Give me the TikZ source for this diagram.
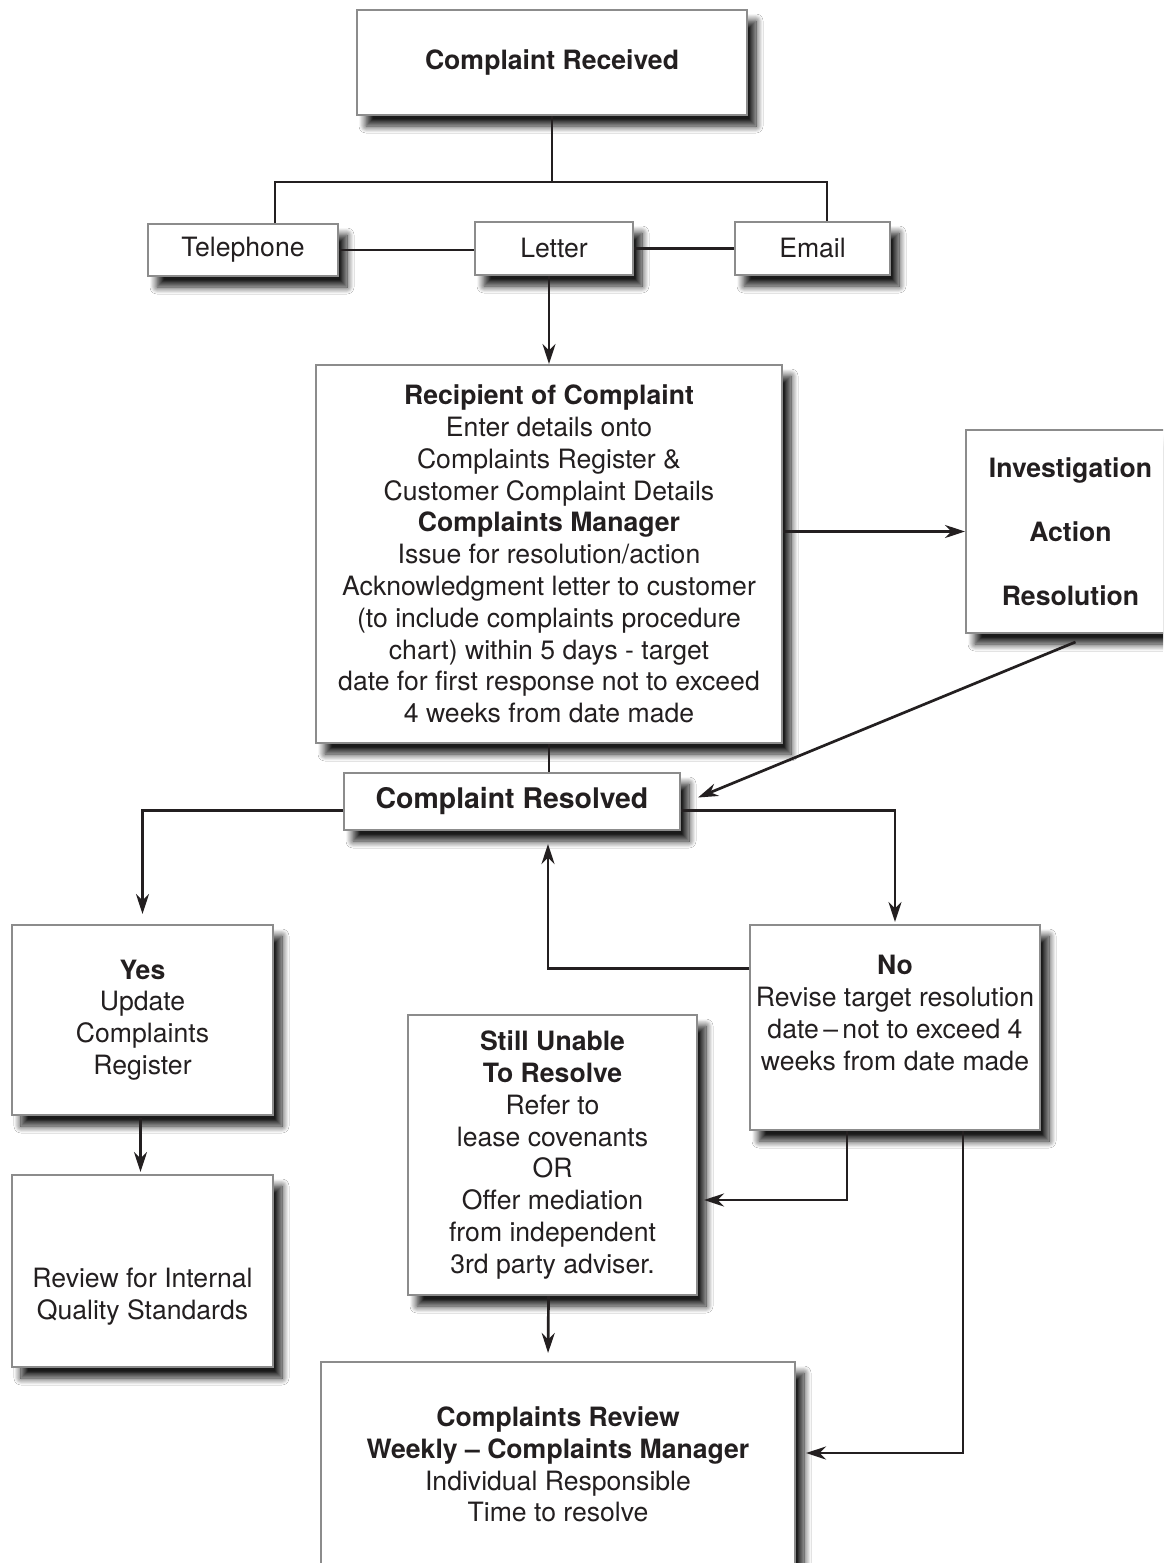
\documentclass[tikz,border=0pt]{standalone}
\usepackage{fontspec}
\setmainfont{TeX Gyre Heros}
\usetikzlibrary{shadows.blur,arrows.meta,calc}
\definecolor{ink}{HTML}{231F20}
\definecolor{framegray}{HTML}{8C8C8C}
\newcommand\boxfont{\fontsize{13.3}{15.9}\selectfont}
\newcommand\resfont{\fontsize{14.2}{17}\selectfont}
\tikzset{
  box/.style={draw=framegray, line width=1pt, fill=white, rectangle, inner sep=0pt,
    align=center, text=ink, font=\boxfont,
    blur shadow={shadow xshift=4.5pt, shadow yshift=-5.5pt, shadow blur radius=3.5pt,
      shadow opacity=90, shadow blur steps=10}},
  txt/.style={align=center, text=ink, font=\boxfont, inner sep=0pt},
  conn/.style={draw=ink, line width=1.35pt},
  arr/.style={conn, -{Stealth[length=10pt,width=6.5pt]}},
}
\begin{document}
\begin{tikzpicture}[x=0.5pt,y=-0.5pt]
\useasboundingbox (0,0) rectangle (1163,1563);
\clip (0,0) rectangle (1163,1563);
\fill[white] (0,0) rectangle (1163,1563);

% boxes
\node[box, minimum width=195pt, minimum height=52.5pt, font=\boxfont\bfseries] (cr) at (552,62.5) {Complaint Received};
\node[box, minimum width=95pt, minimum height=26pt] (tel) at (243,250) {Telephone};
\node[box, minimum width=79pt, minimum height=26.5pt] (let) at (554,248.5) {Letter};
\node[box, minimum width=77.5pt, minimum height=26.5pt] (em) at (812.5,248.5) {Email};
\node[box, minimum width=233pt, minimum height=189pt] (rec) at (549,554)
  {\textbf{Recipient of Complaint}\\Enter details onto\\Complaints Register \&\\Customer Complaint Details\\\textbf{Complaints Manager}\\Issue for resolution/action\\Acknowledgment letter to customer\\(to include complaints procedure\\chart) within 5 days - target\\date for first response not to exceed\\4 weeks from date made};
\node[box, minimum width=104.5pt, minimum height=101.5pt, font=\boxfont\bfseries] (inv) at (1070.5,531.5)
  {Investigation\\[16.1pt]Action\\[16.1pt]Resolution};
\node[box, minimum width=168pt, minimum height=28.5pt, font=\resfont\bfseries] (res) at (512,801.5) {Complaint Resolved};
\node[box, minimum width=130.5pt, minimum height=95pt] (yes) at (142.5,1020)
  {\textbf{Yes}\\Update\\Complaints\\Register};
\node[box, minimum width=130.5pt, minimum height=96pt] (rev) at (142.5,1271) {};
\node[txt] (revt) at (142.5,1297) {Review for Internal\\Quality Standards};
\node[box, minimum width=145pt, minimum height=102.5pt] (no) at (895,1027.5) {};
\node[txt] (not) at (895,1013) {\textbf{No}\\Revise target resolution\\date\,--\,not to exceed 4\\weeks from date made};
\node[box, minimum width=144.5pt, minimum height=140pt] (su) at (552.5,1155)
  {\textbf{Still Unable}\\\textbf{To Resolve}\\Refer to\\lease covenants\\OR\\Offer mediation\\from independent\\3rd party adviser.};
\node[box, minimum width=237pt, minimum height=129pt] (crv) at (558,1491) {};
\node[txt] (crvt) at (558,1464.5) {\textbf{Complaints Review}\\\textbf{Weekly -- Complaints Manager}\\Individual Responsible\\Time to resolve};

% connectors
\coordinate (tj) at (275,182);
\coordinate (ej) at (827,182);
\draw[conn] (cr.south) -- (cr.south |- tj);
\draw[conn] (tel.north -| tj) -- (tj) -- (ej) -- (em.north -| ej);
\draw[conn] (tel.east) -- (tel.east -| let.west);
\draw[conn] (let.east) -- (em.west);
\draw[arr] (let.south -| rec.north) -- (rec.north);
\draw[arr] (rec.east |- inv.west) -- (inv.west);
\draw[conn] (rec.south) -- (rec.south |- res.north);
\draw[arr] ($(inv.south)+(5,8)$) -- ($(res.east)+(17,-4)$);
\draw[arr, shorten >=5pt] ($(res.west)+(0,9)$) -| (yes.north);
\draw[arr, shorten >=1pt] ($(res.east)+(0,9)$) -| (no.north);
\draw[arr] ($(no.west)+(0,-59)$) -| ($(res.south)+(36,13)$);
\draw[arr, shorten >=1pt] ($(yes.south)+(-2,2)$) -- ($(rev.north)+(-2,0)$);
\draw[arr] ($(no.south)+(-48,0)$) |- ($(su.east)+(6,45)$);
\draw[arr] ($(no.south)+(68,0)$) |- ($(crv.east)+(10,-38)$);
\draw[arr, shorten >=4pt] ($(su.south)+(-4,0)$) -- ($(crv.north)+(-10,0)$);
\end{tikzpicture}
\end{document}
